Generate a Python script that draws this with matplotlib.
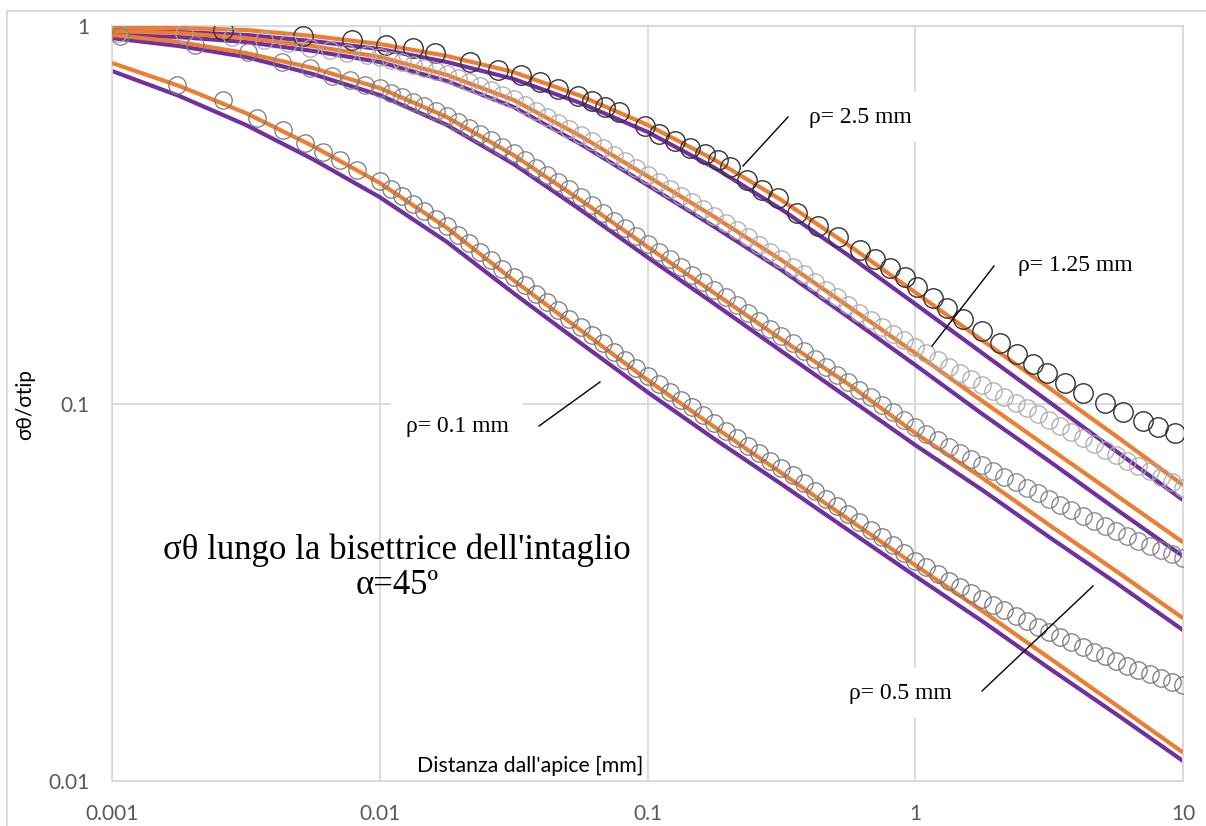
import matplotlib
matplotlib.use("Agg")
import matplotlib.pyplot as plt
from matplotlib.lines import Line2D
from matplotlib.ticker import FixedLocator, NullLocator

W, H = 1206, 826

# theoretical curves, sampled every quarter decade
x_theory = [0.001, 0.00178, 0.00316, 0.00562, 0.01, 0.0178, 0.0316, 0.0562,
            0.1, 0.178, 0.316, 0.562, 1, 1.78, 3.16, 5.62, 10]

orange_25 = [0.994, 0.988, 0.976, 0.941, 0.896, 0.833, 0.755, 0.653, 0.547,
             0.442, 0.346, 0.263, 0.197, 0.147, 0.110, 0.082, 0.0608]
purple_25 = [0.970, 0.964, 0.947, 0.912, 0.869, 0.803, 0.724, 0.625, 0.524,
             0.421, 0.327, 0.247, 0.1835, 0.136, 0.101, 0.0748, 0.0555]
orange_125 = [0.970, 0.958, 0.929, 0.885, 0.828, 0.742, 0.637, 0.511, 0.400,
              0.312, 0.240, 0.181, 0.136, 0.1015, 0.0762, 0.0572, 0.0429]
purple_125 = [0.947, 0.935, 0.907, 0.859, 0.803, 0.715, 0.610, 0.487, 0.379,
              0.2935, 0.226, 0.1695, 0.1265, 0.0938, 0.0704, 0.0525, 0.0394]
orange_05 = [0.947, 0.907, 0.848, 0.774, 0.685, 0.574, 0.455, 0.346, 0.260,
             0.196, 0.148, 0.1126, 0.0835, 0.0635, 0.0477, 0.036, 0.027]
purple_05 = [0.929, 0.885, 0.828, 0.746, 0.656, 0.547, 0.431, 0.326, 0.244,
             0.1835, 0.1377, 0.1034, 0.0776, 0.059, 0.0443, 0.0335, 0.0251]
orange_01 = [0.798, 0.694, 0.588, 0.481, 0.384, 0.292, 0.212, 0.1565, 0.1154,
             0.0866, 0.0655, 0.0494, 0.0373, 0.0282, 0.0212, 0.0159, 0.0119]
purple_01 = [0.760, 0.653, 0.547, 0.444, 0.352, 0.268, 0.196, 0.1446, 0.1072,
             0.0805, 0.0612, 0.0462, 0.0349, 0.0265, 0.0199, 0.01505, 0.0113]

# FEM results, rho = 2.5 mm
x_fem_25 = [0.0026, 0.00517, 0.00788, 0.01055, 0.01331, 0.01609, 0.02173, 0.02765,
            0.0337, 0.03967, 0.04632, 0.05501, 0.06203, 0.06938, 0.07823, 0.09788,
            0.1104, 0.1267, 0.1441, 0.164, 0.1834, 0.2033, 0.2353, 0.2677, 0.3072,
            0.3617, 0.4334, 0.5146, 0.622, 0.7076, 0.805, 0.9158, 1.015, 1.165,
            1.314, 1.508, 1.776, 2.073, 2.399, 2.754, 3.105, 3.626, 4.231, 5.115,
            5.97, 7.089, 8.065, 9.335]
y_fem_25 = [0.976, 0.941, 0.918, 0.891, 0.874, 0.848, 0.803, 0.765, 0.742, 0.711,
            0.681, 0.653, 0.633, 0.610, 0.592, 0.543, 0.518, 0.496, 0.475, 0.458,
            0.442, 0.423, 0.391, 0.368, 0.350, 0.320, 0.295, 0.276, 0.255, 0.241,
            0.2285, 0.2163, 0.2035, 0.1903, 0.179, 0.1674, 0.1556, 0.1446, 0.1352,
            0.1272, 0.1204, 0.1133, 0.1066, 0.1003, 0.0949, 0.0899, 0.0866, 0.0835]

# dense FEM nodes shared by the other three radii
x_fem = [0.01, 0.01101, 0.01212, 0.01334, 0.01468, 0.01616, 0.01778, 0.01957,
         0.02154, 0.02371, 0.0261, 0.02873, 0.03162, 0.03481, 0.03831, 0.04217,
         0.04642, 0.05109, 0.05623, 0.0619, 0.06813, 0.07499, 0.08254, 0.09085,
         0.1, 0.1101, 0.1212, 0.1334, 0.1468, 0.1616, 0.1778, 0.1957,
         0.2154, 0.2371, 0.261, 0.2873, 0.3162, 0.3481, 0.3831, 0.4217,
         0.4642, 0.5109, 0.5623, 0.619, 0.6813, 0.7499, 0.8254, 0.9085,
         1, 1.101, 1.212, 1.334, 1.468, 1.616, 1.778, 1.957,
         2.154, 2.371, 2.61, 2.873, 3.162, 3.481, 3.831, 4.217,
         4.642, 5.109, 5.623, 6.19, 6.813, 7.499, 8.254, 9.085, 10]

x_start_125 = [0.001053, 0.001858, 0.002807, 0.003695, 0.004543, 0.005489,
               0.006521, 0.007546, 0.008962]
y_start_125 = [0.958, 0.958, 0.935, 0.918, 0.901, 0.874, 0.864, 0.848, 0.838]
y_fem_125 = [0.8276, 0.8150, 0.8027, 0.7881, 0.7738, 0.7599, 0.7463, 0.7282,
             0.7106, 0.6935, 0.6767, 0.6584, 0.6406, 0.6175, 0.5953, 0.5741,
             0.5536, 0.5337, 0.5145, 0.4944, 0.4751, 0.4566, 0.4388, 0.4205,
             0.4029, 0.3861, 0.3700, 0.3556, 0.3418, 0.3275, 0.3138, 0.3007,
             0.2882, 0.2753, 0.2630, 0.2519, 0.2413, 0.2305, 0.2203, 0.2098,
             0.1998, 0.1909, 0.1824, 0.1742, 0.1664, 0.1595, 0.1528, 0.1469,
             0.1412, 0.1357, 0.1304, 0.1253, 0.1204, 0.1161, 0.1119, 0.1079,
             0.1040, 0.1006, 0.0973, 0.0938, 0.0904, 0.0871, 0.0840, 0.0810,
             0.0781, 0.0755, 0.0730, 0.0706, 0.0683, 0.0661, 0.0639, 0.0618,
             0.0597]

x_start_05 = [0.001071, 0.002042, 0.003221, 0.004314, 0.005489, 0.006633,
              0.007743, 0.008811]
y_start_05 = [0.941, 0.891, 0.853, 0.803, 0.774, 0.737, 0.719, 0.698]
y_fem_05 = [0.6850, 0.6665, 0.6486, 0.6309, 0.6137, 0.5954, 0.5776, 0.5569,
            0.5370, 0.5176, 0.4989, 0.4795, 0.4609, 0.4403, 0.4206, 0.4030,
            0.3861, 0.3689, 0.3524, 0.3356, 0.3196, 0.3053, 0.2917, 0.2778,
            0.2646, 0.2527, 0.2413, 0.2299, 0.2190, 0.2092, 0.1998, 0.1909,
            0.1824, 0.1737, 0.1654, 0.1580, 0.1510, 0.1442, 0.1377, 0.1311,
            0.1249, 0.1193, 0.1140, 0.1089, 0.1040, 0.0993, 0.0949, 0.0907,
            0.0866, 0.0832, 0.0800, 0.0769, 0.0739, 0.0713, 0.0687, 0.0663,
            0.0639, 0.0618, 0.0597, 0.0578, 0.0559, 0.0540, 0.0522, 0.0505,
            0.0488, 0.0473, 0.0459, 0.0445, 0.0432, 0.0420, 0.0409, 0.0399,
            0.0390]

x_start_01 = [0.001749, 0.002598, 0.00348, 0.004352, 0.005258, 0.006138,
              0.007104, 0.008222]
y_start_01 = [0.698, 0.637, 0.5706, 0.530, 0.490, 0.4637, 0.4415, 0.4155]
y_fem_01 = [0.3885, 0.3711, 0.3545, 0.3386, 0.3235, 0.3090, 0.2952, 0.2803,
            0.2662, 0.2527, 0.2399, 0.2278, 0.2163, 0.2054, 0.1950, 0.1857,
            0.1769, 0.1679, 0.1594, 0.1518, 0.1446, 0.1373, 0.1304, 0.1242,
            0.1182, 0.1126, 0.1072, 0.1024, 0.0979, 0.0932, 0.0888, 0.0848,
            0.0810, 0.0774, 0.0739, 0.0706, 0.0675, 0.0645, 0.0616, 0.0587,
            0.0559, 0.0534, 0.0510, 0.0485, 0.0462, 0.0442, 0.0422, 0.0402,
            0.0383, 0.0368, 0.0353, 0.0339, 0.0326, 0.0314, 0.0303, 0.0293,
            0.0284, 0.0274, 0.0265, 0.0256, 0.0248, 0.0240, 0.0233, 0.0226,
            0.0220, 0.0214, 0.0208, 0.0202, 0.0197, 0.0192, 0.0187, 0.0183,
            0.0180]

x_ticks = [0.001, 0.01, 0.1, 1, 10]
x_ticklabels = ["0.001", "0.01", "0.1", "1", "10"]
y_ticks = [0.01, 0.1, 1]
y_ticklabels = ["0.01", "0.1", "1"]

ORANGE = "#ED7D31"
PURPLE = "#7030A0"
GRID = "#D9D9D9"
SANS = ["Lato", "DejaVu Sans"]
SERIF = ["Liberation Serif", "DejaVu Serif"]


def fx(px):
    return px / W


def fy(py):
    return 1 - py / H


fig = plt.figure(figsize=(W / 100, H / 100), dpi=100)
ax = fig.add_axes([fx(112), fy(781), (1183 - 112) / W, (781 - 26) / H])
ax.set_xscale("log")
ax.set_yscale("log")
ax.set_xlim(0.001, 10)
ax.set_ylim(0.01, 1)

# theory curves: purple under orange
for yp in [purple_25, purple_125, purple_05, purple_01]:
    ax.plot(x_theory, yp, color=PURPLE, lw=3.0, zorder=2, solid_capstyle="butt")
for yo in [orange_25, orange_125, orange_05, orange_01]:
    ax.plot(x_theory, yo, color=ORANGE, lw=3.0, zorder=3, solid_capstyle="butt")

# FEM circles
ax.plot(x_fem_25, y_fem_25, ls="none", marker="o", ms=14, mfc="none",
        mec="#333333", mew=1.0, zorder=4)
ax.plot(x_start_125 + x_fem, y_start_125 + y_fem_125, ls="none", marker="o",
        ms=12.5, mfc="none", mec="#ABABAB", mew=0.9, zorder=4)
ax.plot(x_start_05 + x_fem, y_start_05 + y_fem_05, ls="none", marker="o",
        ms=12.5, mfc="none", mec="#808080", mew=0.9, zorder=4)
ax.plot(x_start_01 + x_fem, y_start_01 + y_fem_01, ls="none", marker="o",
        ms=12.5, mfc="none", mec="#787878", mew=0.9, zorder=4)

# axes look
ax.xaxis.set_major_locator(FixedLocator(x_ticks))
ax.yaxis.set_major_locator(FixedLocator(y_ticks))
ax.xaxis.set_minor_locator(NullLocator())
ax.yaxis.set_minor_locator(NullLocator())
ax.set_xticklabels(x_ticklabels)
ax.set_yticklabels(y_ticklabels)
ax.grid(True, color=GRID, lw=1.3, zorder=0)
ax.set_axisbelow(True)
for s in ax.spines.values():
    s.set_color(GRID)
    s.set_linewidth(1.3)
ax.tick_params(length=0, labelsize=15, labelcolor="#595959")
ax.tick_params(axis="x", pad=16.5)
ax.tick_params(axis="y", pad=16)
for lab in ax.get_xticklabels() + ax.get_yticklabels():
    lab.set_family(SANS)

# axis titles
fig.text(fx(530), fy(766), "Distanza dall'apice [mm]", ha="center", va="center",
         fontsize=15.3, family=SANS, color="black")
fig.text(fx(25), fy(405), "σθ/σtip", ha="center", va="center", rotation=90,
         fontsize=15, family=SANS, color="black")

# annotations
fig.text(fx(397), fy(568), "σθ lungo la bisettrice dell'intaglio\nα=45º",
         ha="center", va="center", fontsize=25, family=SERIF,
         linespacing=1.1, zorder=6)

box = dict(boxstyle="square,pad=0.6", fc="white", ec="none")
labels = [("ρ= 2.5 mm", 860, 117), ("ρ= 1.25 mm", 1075, 265),
          ("ρ= 0.1 mm", 457, 427), ("ρ= 0.5 mm", 900, 693)]
for txt, px, py in labels:
    ax.text(fx(px), fy(py), txt, transform=fig.transFigure, ha="center",
            va="center", fontsize=17, family=SERIF, bbox=box, zorder=5)

leaders = [((743, 166), (788, 117)), ((932, 346), (994, 266)),
           ((539, 426), (600, 382)), ((982, 691), (1093, 586))]
for (x0, y0), (x1, y1) in leaders:
    fig.add_artist(Line2D([fx(x0), fx(x1)], [fy(y0), fy(y1)], color="black",
                          lw=1.0, zorder=7))

# outer chart border (left and top edges are visible)
fig.add_artist(Line2D([fx(7), fx(7)], [fy(11), 0], color=GRID, lw=1.3))
fig.add_artist(Line2D([fx(7), 1], [fy(11), fy(11)], color=GRID, lw=1.3))

fig.savefig("out.png", dpi=100)
